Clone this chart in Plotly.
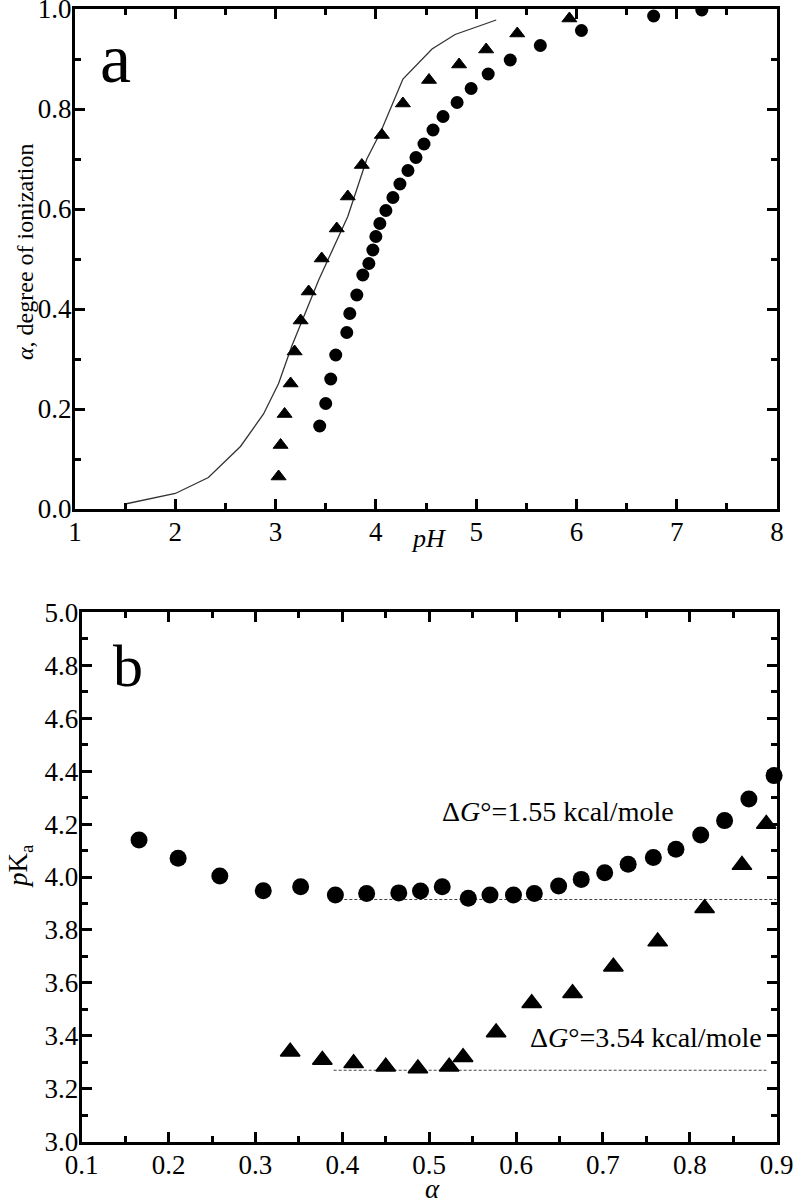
import plotly.graph_objects as go

# ---------------- Panel a data ----------------
tri_a_pH = [3.03, 3.05, 3.09, 3.15, 3.19, 3.25, 3.33, 3.46, 3.61, 3.72, 3.86, 4.06, 4.27, 4.53, 4.83, 5.10, 5.41, 5.93]
tri_a_alpha = [0.065, 0.128, 0.19, 0.251, 0.315, 0.377, 0.435, 0.501, 0.561, 0.625, 0.688, 0.748, 0.811, 0.858, 0.889, 0.919, 0.951, 0.981]

circ_a_pH = [3.44, 3.50, 3.55, 3.60, 3.71, 3.74, 3.81, 3.87, 3.93, 3.97, 4.00, 4.04, 4.10, 4.17, 4.24, 4.32, 4.40,
             4.48, 4.57, 4.67, 4.81, 4.95, 5.12, 5.34, 5.64, 6.05, 6.77, 7.25]
circ_a_alpha = [0.166, 0.211, 0.26, 0.308, 0.353, 0.391, 0.428, 0.468, 0.491, 0.518, 0.545, 0.571, 0.597, 0.623, 0.65,
                0.677, 0.703, 0.73, 0.758, 0.785, 0.813, 0.841, 0.87, 0.898, 0.927, 0.957, 0.986, 0.998]

line_a_pH = [1.5, 2.0, 2.33, 2.65, 2.88, 3.03, 3.16, 3.28, 3.43, 3.72, 3.91, 4.05, 4.27, 4.56, 4.79, 5.20]
line_a_alpha = [0.01, 0.031, 0.063, 0.125, 0.19, 0.251, 0.325, 0.385, 0.458, 0.585, 0.70, 0.755, 0.86, 0.92, 0.949, 0.978]

# ---------------- Panel b data ----------------
circ_b_alpha = [0.166, 0.211, 0.259, 0.309, 0.352, 0.392, 0.428, 0.465, 0.490, 0.515, 0.545, 0.570, 0.597, 0.621,
                0.649, 0.675, 0.702, 0.729, 0.758, 0.784, 0.8125, 0.840, 0.868, 0.897]
circ_b_pKa = [4.140, 4.071, 4.004, 3.948, 3.963, 3.932, 3.938, 3.940, 3.947, 3.963, 3.920, 3.932, 3.932, 3.938,
              3.966, 3.991, 4.016, 4.048, 4.074, 4.105, 4.159, 4.213, 4.295, 4.383]

tri_b_alpha = [0.340, 0.377, 0.413, 0.450, 0.487, 0.523, 0.539, 0.577, 0.618, 0.665, 0.712, 0.763, 0.817, 0.860, 0.888]
tri_b_pKa = [3.340, 3.309, 3.296, 3.283, 3.277, 3.283, 3.319, 3.413, 3.523, 3.561, 3.661, 3.756, 3.882, 4.045, 4.200]

ref1_alpha = [0.385, 0.90]
ref1_pKa = [3.915, 3.915]
ref2_alpha = [0.39, 0.888]
ref2_pKa = [3.27, 3.27]

label1 = "Δ<i>G</i>°=1.55 kcal/mole"
label2 = "Δ<i>G</i>°=3.54 kcal/mole"

FONT = "Liberation Serif"
W, H = 793, 1201

fig = go.Figure()

# panel a
fig.add_trace(go.Scatter(x=line_a_pH, y=line_a_alpha, mode="lines",
                         line=dict(color="#333333", width=1.3), xaxis="x", yaxis="y", showlegend=False))
fig.add_trace(go.Scatter(x=tri_a_pH, y=tri_a_alpha, mode="markers",
                         marker=dict(symbol="triangle-up", size=13, color="black",
                                     line=dict(color="black", width=1)),
                         xaxis="x", yaxis="y", showlegend=False))
fig.add_trace(go.Scatter(x=circ_a_pH, y=circ_a_alpha, mode="markers",
                         marker=dict(symbol="circle", size=13, color="black"),
                         xaxis="x", yaxis="y", showlegend=False))

# panel b
fig.add_trace(go.Scatter(x=ref1_alpha, y=ref1_pKa, mode="lines",
                         line=dict(color="#444444", width=1.2, dash="3px,2px"),
                         xaxis="x2", yaxis="y2", showlegend=False))
fig.add_trace(go.Scatter(x=ref2_alpha, y=ref2_pKa, mode="lines",
                         line=dict(color="#444444", width=1.2, dash="3px,2px"),
                         xaxis="x2", yaxis="y2", showlegend=False))
fig.add_trace(go.Scatter(x=circ_b_alpha, y=circ_b_pKa, mode="markers",
                         marker=dict(symbol="circle", size=17, color="black"),
                         xaxis="x2", yaxis="y2", showlegend=False, cliponaxis=False))
fig.add_trace(go.Scatter(x=tri_b_alpha, y=tri_b_pKa, mode="markers",
                         marker=dict(symbol="triangle-up", size=17, color="black",
                                     line=dict(color="black", width=1.5)),
                         xaxis="x2", yaxis="y2", showlegend=False))

axis_common = dict(showline=True, linecolor="black", linewidth=3, mirror="allticks",
                   ticks="inside", ticklen=10, tickwidth=2.5, tickcolor="black",
                   showgrid=False, zeroline=False, automargin=False,
                   ticklabeloverflow="allow",
                   tickfont=dict(family=FONT, size=27, color="black"))

def minor(dt):
    return dict(ticks="inside", ticklen=6, tickwidth=2.5, tickcolor="black", dtick=dt, showgrid=False)

def fx(p):
    return p / W

def fy(p):
    return 1 - p / H

fig.update_layout(
    template="none",
    width=W, height=H,
    margin=dict(l=0, r=0, t=0, b=0),
    paper_bgcolor="white", plot_bgcolor="white",
    font=dict(family=FONT, color="black"),
    xaxis=dict(domain=[fx(75), fx(777)], range=[1, 8], dtick=1, tick0=1, anchor="y",
               ticklabelstandoff=-3, minor=minor(0.5), **axis_common),
    yaxis=dict(domain=[fy(509), fy(9)], range=[0, 1], dtick=0.2, tick0=0, tickformat=".1f",
               ticklabelstandoff=-5, anchor="x", minor=minor(0.1), **axis_common),
    xaxis2=dict(domain=[fx(81.7), fx(776.7)], range=[0.1, 0.9], dtick=0.1, tick0=0.1, tickformat=".1f",
                ticklabelstandoff=-3, anchor="y2", minor=minor(0.05), **axis_common),
    yaxis2=dict(domain=[fy(1141.7), fy(612.3)], range=[3, 5], dtick=0.2, tick0=3, tickformat=".1f",
                ticklabelstandoff=-5, anchor="x2", minor=minor(0.1), **axis_common),
)

annots = []
# panel labels
annots.append(dict(text="a", x=fx(116), y=fy(58), xref="paper", yref="paper", showarrow=False,
                   font=dict(family=FONT, size=70, color="black"), xanchor="center", yanchor="middle"))
annots.append(dict(text="b", x=fx(128), y=fy(666), xref="paper", yref="paper", showarrow=False,
                   font=dict(family=FONT, size=60, color="black"), xanchor="center", yanchor="middle"))
# axis titles
annots.append(dict(text="<i>α</i>, degree of ionization", x=fx(25), y=fy(252), xref="paper", yref="paper",
                   showarrow=False, textangle=-90, font=dict(family=FONT, size=24, color="black"),
                   xanchor="center", yanchor="middle"))
annots.append(dict(text="<i>pH</i>", x=fx(428), y=fy(538), xref="paper", yref="paper", showarrow=False,
                   font=dict(family=FONT, size=26, color="black"), xanchor="center", yanchor="middle"))
annots.append(dict(text="<i>p</i>K<sub>a</sub>", x=fx(20), y=fy(866), xref="paper", yref="paper",
                   showarrow=False, textangle=-90, font=dict(family=FONT, size=27, color="black"),
                   xanchor="center", yanchor="middle"))
annots.append(dict(text="<i>α</i>", x=fx(432), y=fy(1189), xref="paper", yref="paper", showarrow=False,
                   font=dict(family=FONT, size=27, color="black"), xanchor="center", yanchor="middle"))
# free energy labels
annots.append(dict(text=label1, x=0.648, y=4.247, xref="x2", yref="y2", showarrow=False,
                   font=dict(family=FONT, size=28, color="black"), xanchor="center", yanchor="middle"))
annots.append(dict(text=label2, x=0.749, y=3.392, xref="x2", yref="y2", showarrow=False,
                   font=dict(family=FONT, size=28, color="black"), xanchor="center", yanchor="middle"))
fig.update_layout(annotations=annots)

# remove the browser's default 8px body margin so the figure fills the window exactly
fig.write_html("out.html",
               config={"displayModeBar": False},
               post_script="document.body.style.margin='0';document.body.style.overflow='hidden';")
